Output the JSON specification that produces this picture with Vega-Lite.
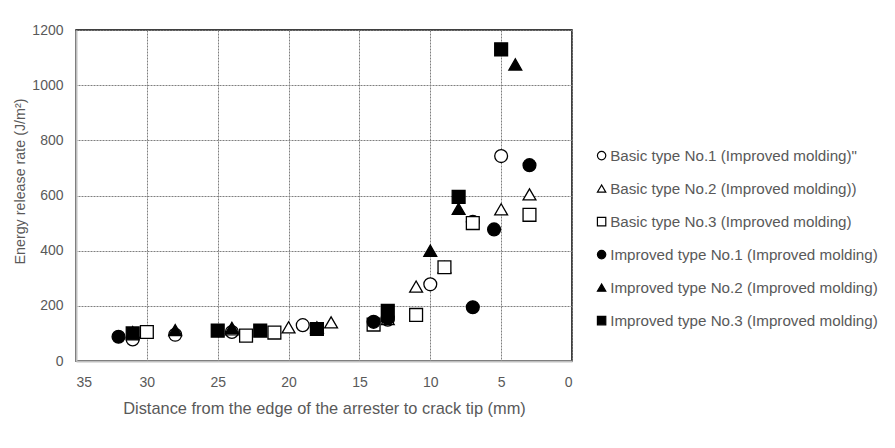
{
  "$schema": "https://vega.github.io/schema/vega-lite/v6.json",
  "width": 496,
  "height": 331,
  "autosize": {"type": "none"},
  "padding": {"left": 76, "top": 30, "right": 323, "bottom": 87},
  "background": "white",
  "config": {
    "font": "Liberation Sans",
    "view": {"stroke": "black", "strokeWidth": 1.5}
  },
  "data": {
    "values": [
      {"series": "Basic type No.1 (Improved molding)\"", "d": 31, "g": 78},
      {"series": "Basic type No.1 (Improved molding)\"", "d": 28, "g": 95},
      {"series": "Basic type No.1 (Improved molding)\"", "d": 24, "g": 105},
      {"series": "Basic type No.1 (Improved molding)\"", "d": 19, "g": 130},
      {"series": "Basic type No.1 (Improved molding)\"", "d": 13, "g": 150},
      {"series": "Basic type No.1 (Improved molding)\"", "d": 10, "g": 278},
      {"series": "Basic type No.1 (Improved molding)\"", "d": 7, "g": 505},
      {"series": "Basic type No.1 (Improved molding)\"", "d": 5, "g": 743},
      {"series": "Basic type No.2 (Improved molding))", "d": 24, "g": 115},
      {"series": "Basic type No.2 (Improved molding))", "d": 20, "g": 122},
      {"series": "Basic type No.2 (Improved molding))", "d": 17, "g": 140},
      {"series": "Basic type No.2 (Improved molding))", "d": 13, "g": 152},
      {"series": "Basic type No.2 (Improved molding))", "d": 11, "g": 270},
      {"series": "Basic type No.2 (Improved molding))", "d": 9, "g": 340},
      {"series": "Basic type No.2 (Improved molding))", "d": 5, "g": 550},
      {"series": "Basic type No.2 (Improved molding))", "d": 3, "g": 604},
      {"series": "Basic type No.3 (Improved molding)", "d": 30, "g": 105},
      {"series": "Basic type No.3 (Improved molding)", "d": 23, "g": 92},
      {"series": "Basic type No.3 (Improved molding)", "d": 21, "g": 103},
      {"series": "Basic type No.3 (Improved molding)", "d": 14, "g": 132},
      {"series": "Basic type No.3 (Improved molding)", "d": 11, "g": 167},
      {"series": "Basic type No.3 (Improved molding)", "d": 9, "g": 340},
      {"series": "Basic type No.3 (Improved molding)", "d": 7, "g": 500},
      {"series": "Basic type No.3 (Improved molding)", "d": 3, "g": 530},
      {"series": "Improved type No.1 (Improved molding)", "d": 32, "g": 88},
      {"series": "Improved type No.1 (Improved molding)", "d": 14, "g": 142},
      {"series": "Improved type No.1 (Improved molding)", "d": 13, "g": 155},
      {"series": "Improved type No.1 (Improved molding)", "d": 7, "g": 195},
      {"series": "Improved type No.1 (Improved molding)", "d": 5.5, "g": 477},
      {"series": "Improved type No.1 (Improved molding)", "d": 3, "g": 710},
      {"series": "Improved type No.2 (Improved molding)", "d": 31, "g": 105},
      {"series": "Improved type No.2 (Improved molding)", "d": 28, "g": 112},
      {"series": "Improved type No.2 (Improved molding)", "d": 24, "g": 120},
      {"series": "Improved type No.2 (Improved molding)", "d": 18, "g": 122},
      {"series": "Improved type No.2 (Improved molding)", "d": 10, "g": 400},
      {"series": "Improved type No.2 (Improved molding)", "d": 8, "g": 552},
      {"series": "Improved type No.2 (Improved molding)", "d": 4, "g": 1075},
      {"series": "Improved type No.3 (Improved molding)", "d": 31, "g": 100},
      {"series": "Improved type No.3 (Improved molding)", "d": 25, "g": 110},
      {"series": "Improved type No.3 (Improved molding)", "d": 22, "g": 110},
      {"series": "Improved type No.3 (Improved molding)", "d": 18, "g": 116},
      {"series": "Improved type No.3 (Improved molding)", "d": 13, "g": 182},
      {"series": "Improved type No.3 (Improved molding)", "d": 8, "g": 595},
      {"series": "Improved type No.3 (Improved molding)", "d": 5, "g": 1130}
    ]
  },
  "mark": {"type": "point", "filled": false, "stroke": "black", "strokeWidth": 1.3, "size": 165, "opacity": 1},
  "encoding": {
    "x": {
      "field": "d",
      "type": "quantitative",
      "scale": {"domain": [0, 35], "reverse": true, "nice": false},
      "axis": {
        "values": [0, 5, 10, 15, 20, 25, 30, 35],
        "format": "d",
        "title": "Distance from the edge of the arrester to crack tip (mm)",
        "labelFont": "Liberation Sans",
        "titleFont": "Liberation Sans",
        "labelFontSize": 14,
        "titleFontSize": 16.4,
        "titleFontWeight": "normal",
        "labelColor": "#595959",
        "titleColor": "#595959",
        "ticks": false,
        "labelPadding": 14,
        "titlePadding": 11,
        "domainColor": "#bfbfbf",
        "domainWidth": 2,
        "gridColor": "#7f7f7f",
        "gridDash": [2, 1]
      }
    },
    "y": {
      "field": "g",
      "type": "quantitative",
      "scale": {"domain": [0, 1200], "nice": false},
      "axis": {
        "values": [0, 200, 400, 600, 800, 1000, 1200],
        "format": "d",
        "title": "Energy release rate (J/m²)",
        "labelFont": "Liberation Sans",
        "titleFont": "Liberation Sans",
        "labelFontSize": 14,
        "titleFontSize": 14.3,
        "titleFontWeight": "normal",
        "labelColor": "#595959",
        "titleColor": "#595959",
        "ticks": false,
        "labelPadding": 13,
        "titlePadding": 4,
        "titleY": 151,
        "domainColor": "#bfbfbf",
        "domainWidth": 2,
        "gridColor": "#7f7f7f",
        "gridDash": [2, 1]
      }
    },
    "shape": {
      "field": "series",
      "type": "nominal",
      "scale": {
        "domain": ["Basic type No.1 (Improved molding)\"", "Basic type No.2 (Improved molding))", "Basic type No.3 (Improved molding)", "Improved type No.1 (Improved molding)", "Improved type No.2 (Improved molding)", "Improved type No.3 (Improved molding)"],
        "range": ["circle", "triangle-up", "square", "circle", "triangle-up", "square"]
      },
      "legend": {
        "title": null,
        "orient": "none",
        "legendX": 518,
        "legendY": 118,
        "labelFontSize": 15.2,
        "labelColor": "#595959",
        "labelFont": "Liberation Sans",
        "labelLimit": 400,
        "symbolSize": 70,
        "symbolStrokeWidth": 1.2,
        "rowPadding": 17,
        "labelOffset": 1,
        "encode": {"symbols": {"update": {"stroke": {"value": "black"}, "strokeWidth": {"value": 1.2}}}}
      }
    },
    "fill": {
      "field": "series",
      "type": "nominal",
      "scale": {
        "domain": ["Basic type No.1 (Improved molding)\"", "Basic type No.2 (Improved molding))", "Basic type No.3 (Improved molding)", "Improved type No.1 (Improved molding)", "Improved type No.2 (Improved molding)", "Improved type No.3 (Improved molding)"],
        "range": ["white", "white", "white", "black", "black", "black"]
      },
      "legend": {
        "title": null,
        "orient": "none",
        "legendX": 518,
        "legendY": 118,
        "labelFontSize": 15.2,
        "labelColor": "#595959",
        "labelFont": "Liberation Sans",
        "labelLimit": 400,
        "symbolSize": 70,
        "symbolStrokeWidth": 1.2,
        "rowPadding": 17,
        "labelOffset": 1,
        "encode": {"symbols": {"update": {"stroke": {"value": "black"}, "strokeWidth": {"value": 1.2}}}}
      }
    }
  }
}
